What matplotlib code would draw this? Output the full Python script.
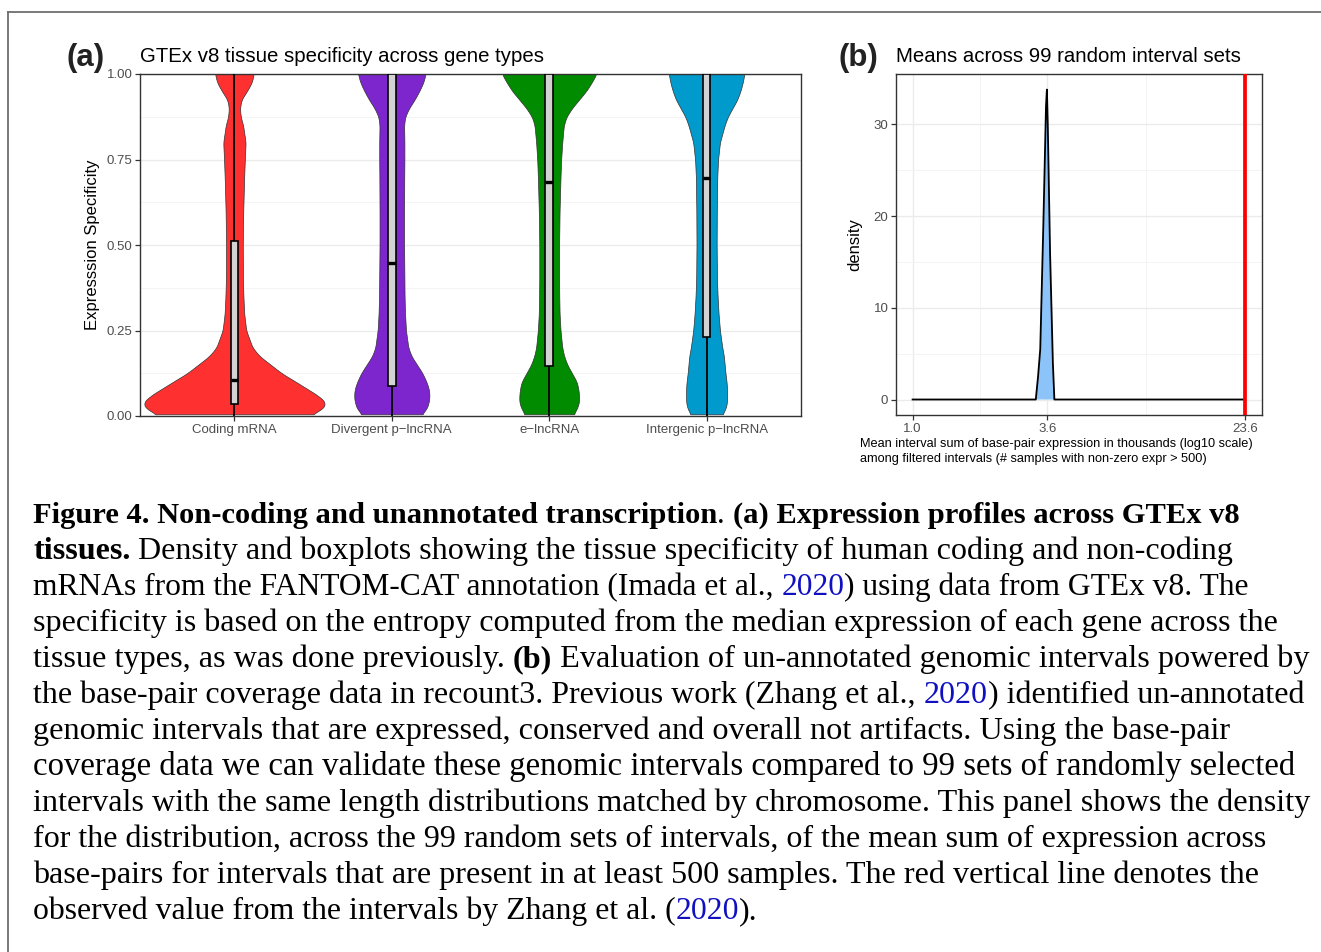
import numpy as np
import matplotlib
matplotlib.use("Agg")
import matplotlib.pyplot as plt
from matplotlib.lines import Line2D
from matplotlib.ticker import FixedLocator, NullFormatter

# ---------------- data ----------------
gene_types = ["Coding mRNA", "Divergent p\u2212lncRNA", "e\u2212lncRNA", "Intergenic p\u2212lncRNA"]
violin_colors = ["#FF3030", "#7D26CD", "#008B00", "#009ACD"]

# violin half-widths (in category units) at these specificity levels
violin_levels = [0.005, 0.02, 0.04, 0.06, 0.08, 0.10, 0.125, 0.15, 0.175, 0.20, 0.25, 0.30,
                 0.35, 0.40, 0.50, 0.60, 0.70, 0.75, 0.80, 0.85, 0.875, 0.90, 0.925, 0.95, 0.975, 1.0]
coding_width = [0.49, 0.56, 0.58, 0.53, 0.46, 0.39, 0.30, 0.23, 0.16, 0.115, 0.075, 0.062,
                0.057, 0.054, 0.053, 0.056, 0.062, 0.066, 0.071, 0.055, 0.040, 0.035, 0.045, 0.080, 0.110, 0.123]
divergent_width = [0.19, 0.22, 0.235, 0.24, 0.235, 0.22, 0.195, 0.16, 0.125, 0.105, 0.090, 0.084,
                   0.081, 0.080, 0.078, 0.078, 0.079, 0.080, 0.080, 0.078, 0.085, 0.110, 0.145, 0.175, 0.200, 0.215]
elnc_width = [0.155, 0.175, 0.19, 0.19, 0.185, 0.175, 0.145, 0.115, 0.095, 0.083, 0.072, 0.066,
              0.064, 0.063, 0.063, 0.066, 0.072, 0.076, 0.083, 0.093, 0.110, 0.145, 0.190, 0.235, 0.270, 0.300]
intergenic_width = [0.10, 0.12, 0.13, 0.13, 0.13, 0.127, 0.12, 0.115, 0.11, 0.10, 0.085, 0.076,
                    0.070, 0.066, 0.064, 0.065, 0.068, 0.073, 0.085, 0.115, 0.135, 0.165, 0.195, 0.215, 0.230, 0.240]

# boxplot statistics: lower hinge, median, upper hinge, whisker low, whisker high
box_lower = [0.035, 0.087, 0.145, 0.232]
box_median = [0.105, 0.447, 0.685, 0.697]
box_upper = [0.512, 1.0, 1.0, 1.0]
whisker_low = [0.0, 0.0, 0.0, 0.0]
whisker_high = [1.0, 1.0, 1.0, 1.0]

# panel (b): density of means across 99 random interval sets
dens_x = [1.0, 3.23, 3.30, 3.37, 3.47, 3.56, 3.59, 3.62, 3.70, 3.80, 3.855, 23.6]
dens_y = [0.0, 0.0, 2.5, 5.5, 19.0, 32.0, 33.8, 30.0, 16.0, 4.0, 0.0, 0.0]
observed_value = 23.6
b_xticks = [1.0, 3.6, 23.6]
b_xticklabels = ["1.0", "3.6", "23.6"]
b_yticks = [0, 10, 20, 30]

a_yticks = [0.0, 0.25, 0.5, 0.75, 1.0]
a_yticklabels = ["0.00", "0.25", "0.50", "0.75", "1.00"]

# caption lines: (text, style) with style in {"n","b","blue"}
caption_lines = [
    [("Figure 4. Non-coding and unannotated transcription", "b"), (". ", "n"), ("(a) Expression profiles across GTEx v8", "b")],
    [("tissues.", "b"), (" Density and boxplots showing the tissue specificity of human coding and non-coding", "n")],
    [("mRNAs from the FANTOM-CAT annotation (Imada et al., ", "n"), ("2020", "blue"), (") using data from GTEx v8. The", "n")],
    [("specificity is based on the entropy computed from the median expression of each gene across the", "n")],
    [("tissue types, as was done previously. ", "n"), ("(b)", "b"), (" Evaluation of un-annotated genomic intervals powered by", "n")],
    [("the base-pair coverage data in recount3. Previous work (Zhang et al., ", "n"), ("2020", "blue"), (") identified un-annotated", "n")],
    [("genomic intervals that are expressed, conserved and overall not artifacts. Using the base-pair", "n")],
    [("coverage data we can validate these genomic intervals compared to 99 sets of randomly selected", "n")],
    [("intervals with the same length distributions matched by chromosome. This panel shows the density", "n")],
    [("for the distribution, across the 99 random sets of intervals, of the mean sum of expression across", "n")],
    [("base-pairs for intervals that are present in at least 500 samples. The red vertical line denotes the", "n")],
    [("observed value from the intervals by Zhang et al. (", "n"), ("2020", "blue"), (").", "n")],
]
caption_right = [1232, 1234, 1249, 1273, 1307, 1304, 1226, 1295, 1307, 1265, 1255, 755]

# ---------------- figure ----------------
W, H = 1321, 952
SANS = ["Liberation Sans", "DejaVu Sans"]
SERIF = ["Liberation Serif", "DejaVu Serif"]
plt.rcParams["font.family"] = SANS
fig = plt.figure(figsize=(W / 100, H / 100), dpi=100)
fig.patch.set_facecolor("white")


def fx(x):
    return x / W


def fy(y):
    return 1 - y / H


def add_axes_px(left, top, right, bottom):
    return fig.add_axes([fx(left), fy(bottom), (right - left) / W, (bottom - top) / H])


def style_axes(ax):
    for s in ax.spines.values():
        s.set_color("#333333")
        s.set_linewidth(1.0)
    ax.tick_params(which="major", length=3.5, width=0.9, color="#333333",
                   labelcolor="#4D4D4D", labelsize=9.5, pad=2)
    ax.tick_params(which="minor", length=0)
    ax.set_axisbelow(True)
    ax.grid(which="major", color="#EBEBEB", linewidth=1.0)
    ax.grid(which="minor", color="#F4F4F4", linewidth=0.7)


def smooth_profile(levels, widths, n=500, win=11):
    yy = np.linspace(levels[0], levels[-1], n)
    ww = np.interp(yy, levels, widths)
    pad = win // 2
    wp = np.concatenate([np.full(pad, ww[0]), ww, np.full(pad, ww[-1])])
    ww = np.convolve(wp, np.ones(win) / win, mode="valid")
    return yy, ww


# ---------- panel (a) ----------
axa = add_axes_px(140, 74, 801, 416)
style_axes(axa)
axa.xaxis.grid(False, which="both")
positions = np.arange(1, len(gene_types) + 1)
widths_all = [coding_width, divergent_width, elnc_width, intergenic_width]
box_half = 0.024
for i, pos in enumerate(positions):
    yy, ww = smooth_profile(violin_levels, widths_all[i])
    axa.fill_betweenx(yy, pos - ww, pos + ww, facecolor=violin_colors[i],
                      edgecolor="#333333", linewidth=0.5, zorder=2)
    axa.plot([pos, pos], [whisker_low[i], box_lower[i]], color="black", lw=1.3, zorder=3,
             solid_capstyle="butt")
    axa.plot([pos, pos], [box_upper[i], whisker_high[i]], color="black", lw=1.3, zorder=3,
             solid_capstyle="butt")
    axa.add_patch(plt.Rectangle((pos - box_half, box_lower[i]), 2 * box_half,
                                box_upper[i] - box_lower[i], facecolor="#D3D3D3",
                                edgecolor="black", linewidth=1.2, zorder=3))
    axa.plot([pos - box_half, pos + box_half], [box_median[i]] * 2, color="black", lw=2.4,
             zorder=4, solid_capstyle="butt")
axa.set_xlim(0.4, 4.6)
axa.set_ylim(0, 1)
axa.set_xticks(positions)
axa.set_xticklabels(gene_types)
axa.set_yticks(a_yticks)
axa.set_yticklabels(a_yticklabels)
axa.yaxis.set_minor_locator(FixedLocator([0.125, 0.375, 0.625, 0.875]))
axa.set_ylabel("Expresssion Specificity", fontsize=12, color="black", labelpad=5)

fig.text(fx(140), fy(62), "GTEx v8 tissue specificity across gene types", fontsize=14.7,
         ha="left", va="baseline", color="black")
fig.text(fx(67), fy(66), "(a)", fontsize=22.5, weight="bold", ha="left", va="baseline",
         color="#222222")

# ---------- panel (b) ----------
axb = add_axes_px(896, 74, 1262, 415)
style_axes(axb)
axb.set_xscale("log")
axb.fill_between(dens_x, dens_y, 0, facecolor="#8CC4FA", edgecolor="none", zorder=2)
axb.plot(dens_x, dens_y, color="black", lw=1.3, zorder=3)
axb.axvline(observed_value, color="#FF0000", lw=2.7, zorder=4)
axb.set_xlim(10 ** -0.0687, 10 ** 1.4443)
axb.set_ylim(-1.69, 35.5)
axb.xaxis.set_major_locator(FixedLocator(b_xticks))
axb.set_xticklabels(b_xticklabels)
axb.xaxis.set_minor_locator(FixedLocator([10 ** 0.278, 10 ** 0.9645]))
axb.xaxis.set_minor_formatter(NullFormatter())
axb.set_yticks(b_yticks)
axb.yaxis.set_minor_locator(FixedLocator([5, 15, 25]))
axb.set_ylabel("density", fontsize=12, color="black", labelpad=8)

fig.text(fx(896), fy(62), "Means across 99 random interval sets", fontsize=14.7,
         ha="left", va="baseline", color="black")
fig.text(fx(839), fy(66), "(b)", fontsize=22.5, weight="bold", ha="left", va="baseline",
         color="#222222")
fig.text(fx(860), fy(447), "Mean interval sum of base-pair expression in thousands (log10 scale)",
         fontsize=9.2, ha="left", va="baseline", color="black")
fig.text(fx(860), fy(461.5), "among filtered intervals (# samples with non-zero expr > 500)",
         fontsize=9.2, ha="left", va="baseline", color="black")

# ---------- frame lines ----------
fig.add_artist(Line2D([fx(8), fx(8)], [0, fy(12)], transform=fig.transFigure,
                      color="#6E6E6E", lw=1.3))
fig.add_artist(Line2D([fx(8), 1], [fy(12), fy(12)], transform=fig.transFigure,
                      color="#6E6E6E", lw=1.3))

# ---------- caption ----------
renderer = fig.canvas.get_renderer()
style_map = {"n": ("normal", "black"), "b": ("bold", "black"), "blue": ("normal", "#1010C0")}


def seg_width(s, size, weight):
    t = fig.text(0, 0, "X" + s + "X", fontsize=size, weight=weight, family=SERIF)
    w1 = t.get_window_extent(renderer).width
    t.set_text("XX")
    w2 = t.get_window_extent(renderer).width
    t.remove()
    return w1 - w2


base_size = 21.0
left_x = 33
for li, segs in enumerate(caption_lines):
    total = sum(seg_width(s, base_size, style_map[st][0]) for s, st in segs)
    size = base_size * (caption_right[li] - left_x) / total
    size = min(max(size, 19.5), 23.6)
    x = left_x
    baseline = 523 + 36 * li
    for s, st in segs:
        weight, color = style_map[st]
        fig.text(fx(x), fy(baseline), s, fontsize=size, weight=weight, color=color,
                 family=SERIF, ha="left", va="baseline")
        x += seg_width(s, size, weight)

fig.savefig("out.png", dpi=100, facecolor="white")
